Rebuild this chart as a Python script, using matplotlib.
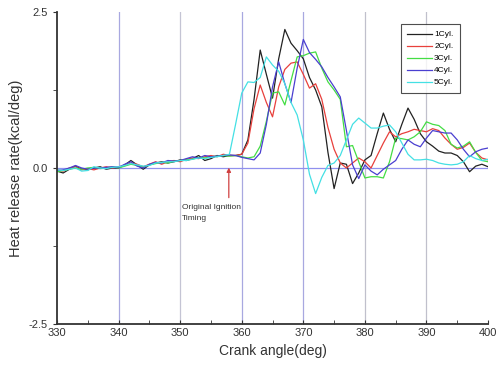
import numpy as np
import matplotlib
matplotlib.use("Agg")
import matplotlib.pyplot as plt
from matplotlib.ticker import MultipleLocator

crank = list(range(330, 401))

cyl1 = [-0.05, -0.08, -0.02, 0.03, -0.02, -0.03, 0.00, 0.02, -0.02, 0.00,
        0.00, 0.05, 0.12, 0.05, -0.02, 0.05, 0.08, 0.10, 0.08, 0.10,
        0.13, 0.12, 0.15, 0.20, 0.12, 0.15, 0.20, 0.18, 0.20, 0.20,
        0.22, 0.45, 1.10, 1.89, 1.50, 1.12, 1.75, 2.22, 2.00, 1.88,
        1.75, 1.45, 1.25, 0.98, 0.25, -0.33, 0.08, 0.06, -0.25, -0.08,
        0.13, 0.20, 0.55, 0.88, 0.62, 0.42, 0.70, 0.96, 0.78, 0.55,
        0.42, 0.35, 0.27, 0.24, 0.24, 0.20, 0.10, -0.06, 0.03, 0.06,
        0.02]
cyl2 = [-0.03, -0.05, 0.00, 0.02, -0.03, -0.01, -0.03, 0.00, 0.02, 0.00,
        0.02, 0.04, 0.08, 0.06, 0.02, 0.06, 0.10, 0.06, 0.10, 0.12,
        0.10, 0.14, 0.16, 0.15, 0.18, 0.20, 0.18, 0.22, 0.20, 0.20,
        0.22, 0.40, 0.95, 1.33, 1.05, 0.82, 1.30, 1.58, 1.68, 1.70,
        1.50, 1.28, 1.35, 1.10, 0.65, 0.30, 0.08, 0.00, 0.08, 0.16,
        0.10, 0.00, 0.20, 0.40, 0.58, 0.50, 0.55, 0.58, 0.62, 0.60,
        0.58, 0.63, 0.60, 0.48, 0.38, 0.30, 0.33, 0.40, 0.25, 0.16,
        0.13]
cyl3 = [-0.06, -0.04, -0.02, 0.00, -0.02, 0.00, 0.01, -0.01, 0.00, 0.02,
        0.00, 0.03, 0.06, 0.04, 0.01, 0.05, 0.07, 0.09, 0.08, 0.11,
        0.12, 0.13, 0.14, 0.17, 0.16, 0.18, 0.19, 0.20, 0.19, 0.20,
        0.18, 0.16, 0.18, 0.35, 0.75, 1.20, 1.22, 1.01, 1.40, 1.78,
        1.80, 1.84, 1.86, 1.60, 1.38, 1.25, 1.10, 0.34, 0.36, 0.10,
        -0.16, -0.14, -0.14, -0.16, 0.10, 0.48, 0.47, 0.45, 0.50, 0.58,
        0.74, 0.70, 0.68, 0.60, 0.38, 0.32, 0.35, 0.42, 0.25, 0.12,
        0.10]
cyl4 = [-0.04, -0.03, 0.00, 0.04, 0.00, -0.02, 0.00, 0.00, 0.01, 0.02,
        0.01, 0.06, 0.10, 0.03, 0.00, 0.06, 0.09, 0.08, 0.12, 0.11,
        0.12, 0.15, 0.18, 0.16, 0.20, 0.18, 0.19, 0.20, 0.21, 0.20,
        0.17, 0.15, 0.13, 0.24, 0.70, 1.30, 1.70, 1.35, 1.05, 1.60,
        2.06, 1.85, 1.74, 1.62, 1.45, 1.30, 1.14, 0.60, 0.05, -0.17,
        0.05, -0.05, -0.11, -0.02, 0.05, 0.12, 0.30, 0.45, 0.38, 0.34,
        0.48, 0.60, 0.58, 0.56, 0.56, 0.45, 0.30, 0.18, 0.26, 0.30,
        0.32]
cyl5 = [-0.03, -0.04, -0.02, 0.00, -0.05, -0.04, 0.02, 0.00, -0.01, 0.01,
        0.02, 0.04, 0.07, 0.05, 0.03, 0.04, 0.08, 0.09, 0.10, 0.10,
        0.12, 0.12, 0.14, 0.16, 0.15, 0.17, 0.18, 0.20, 0.22, 0.70,
        1.20, 1.38, 1.37, 1.45, 1.78, 1.65, 1.55, 1.35, 1.05, 0.85,
        0.45, -0.10, -0.41, -0.15, 0.04, 0.08, 0.20, 0.45, 0.70, 0.80,
        0.72, 0.64, 0.64, 0.67, 0.69, 0.58, 0.40, 0.22, 0.13, 0.13,
        0.14, 0.12, 0.08, 0.06, 0.05, 0.06, 0.10, 0.20, 0.15, 0.12,
        0.14]

labels = ["1Cyl.", "2Cyl.", "3Cyl.", "4Cyl.", "5Cyl."]
colors = ["#222222", "#e8403c", "#44dd44", "#4a3fd0", "#44e0e4"]
series = [cyl1, cyl2, cyl3, cyl4, cyl5]

plt.rcParams['font.family'] = ['Liberation Sans', 'DejaVu Sans']

fig = plt.figure(figsize=(4.98, 3.71), dpi=100)
ax = fig.add_axes([0.1145, 0.1267, 0.8655, 0.841])

for gx, gc in zip([340, 350, 360, 370, 380, 390],
                  ["#a8a8e0", "#c4c4d4", "#a8a8e0", "#a8a8e0", "#c0c0cc", "#c0c0cc"]):
    ax.axvline(gx, color=gc, lw=0.9, zorder=0)
ax.axhline(0, color="#9090ee", lw=0.9, zorder=0)

for y, c, l in zip(series, colors, labels):
    ax.plot(crank, y, color=c, lw=0.9, label=l)

ax.set_xlim(330, 400)
ax.set_ylim(-2.5, 2.5)
ax.xaxis.set_major_locator(MultipleLocator(10))
ax.xaxis.set_minor_locator(MultipleLocator(5))
ax.set_yticks([-2.5, 0.0, 2.5])
ax.yaxis.set_minor_locator(MultipleLocator(1.25))
ax.yaxis.set_major_formatter(matplotlib.ticker.FormatStrFormatter("%.1f"))

for s in ["top", "right"]:
    ax.spines[s].set_visible(False)
for s in ["left", "bottom"]:
    ax.spines[s].set_color("#333333")
    ax.spines[s].set_linewidth(1.3)

ax.tick_params(axis="x", which="both", direction="in", length=3, color="#333333",
               labelsize=8, labelcolor="#333333", pad=3)
ax.tick_params(axis="y", which="both", direction="out", length=3, color="#333333",
               labelsize=8, labelcolor="#333333")

ax.set_xlabel("Crank angle(deg)", fontsize=10, color="#333333", labelpad=4)
ax.set_ylabel("Heat release rate(kcal/deg)", fontsize=10.5, color="#333333", labelpad=4)

ax.annotate("", xy=(357.9, 0.05), xytext=(357.9, -0.52),
            arrowprops=dict(arrowstyle="-|>", color="#d04040", lw=0.9,
                            mutation_scale=6))
ax.text(350.3, -0.58, "Original Ignition\nTiming", fontsize=6, color="#333333",
        va="top", ha="left", linespacing=1.7)

leg = ax.legend(loc="upper right", bbox_to_anchor=(0.945, 0.975), fontsize=6,
                frameon=True, fancybox=False, handlelength=3.0,
                labelspacing=0.5, borderpad=0.8, handletextpad=0.2)
leg.get_frame().set_edgecolor("#222222")
leg.get_frame().set_linewidth(0.8)

fig.savefig("out.png", dpi=100)
